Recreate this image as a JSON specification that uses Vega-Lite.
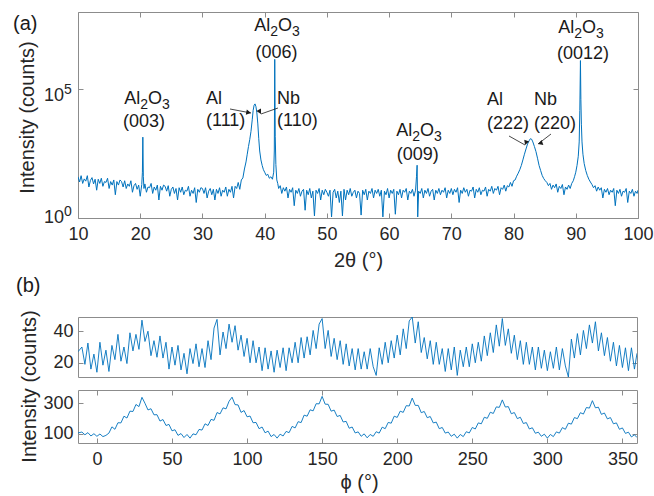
{
"$schema": "https://vega.github.io/schema/vega-lite/v6.json",
"background": "white",
"padding": {"top": 11, "left": 12, "right": 4, "bottom": 5},
"config": {
 "font": "Liberation Sans",
 "view": {"stroke": "#8c8c8c", "strokeWidth": 1},
 "axis": {"domain": false, "grid": false, "ticks": true, "tickSize": -5, "tickColor": "#8c8c8c", "tickWidth": 1, "labelFont": "Liberation Sans", "labelFontSize": 18, "labelColor": "#262626", "labelPadding": 12, "labelFlush": false, "labelOverlap": false, "titleFont": "Liberation Sans", "titleFontSize": 20, "titleFontWeight": "normal", "titleColor": "#262626"},
 "text": {"font": "Liberation Sans", "color": "#1a1a1a"}
},
"datasets": {
 "xrd": [
{"t":10,"c":40},{"t":10.25,"c":25},{"t":10.5,"c":44},{"t":10.75,"c":22},{"t":11,"c":33},{"t":11.25,"c":27},{"t":11.5,"c":44},{"t":11.75,"c":16},{"t":12,"c":29},{"t":12.25,"c":37},{"t":12.5,"c":21},{"t":12.75,"c":32},{"t":13,"c":12},{"t":13.25,"c":32},{"t":13.5,"c":22},{"t":13.75,"c":35},{"t":14,"c":17},{"t":14.25,"c":26},{"t":14.5,"c":24},{"t":14.75,"c":35},{"t":15,"c":14},{"t":15.25,"c":26},{"t":15.5,"c":19},{"t":15.75,"c":30},{"t":16,"c":8},{"t":16.25,"c":26},{"t":16.5,"c":19},{"t":16.75,"c":30},{"t":17,"c":26},{"t":17.25,"c":16},{"t":17.5,"c":28},{"t":17.75,"c":14},{"t":18,"c":21},{"t":18.25,"c":17},{"t":18.5,"c":28},{"t":18.75,"c":10},{"t":19,"c":18},{"t":19.25,"c":22},{"t":19.5,"c":13},{"t":19.75,"c":19},{"t":20,"c":7},{"t":20.25,"c":20},{"t":20.35,"c":60},{"t":20.42,"c":1380},{"t":20.5,"c":40},{"t":20.6,"c":14},{"t":20.75,"c":21},{"t":21,"c":10},{"t":21.25,"c":16},{"t":21.5,"c":15},{"t":21.75,"c":22},{"t":22,"c":9},{"t":22.25,"c":16},{"t":22.5,"c":12},{"t":22.75,"c":19},{"t":23,"c":5},{"t":23.25,"c":17},{"t":23.5,"c":12},{"t":23.75,"c":19},{"t":24,"c":17},{"t":24.25,"c":11},{"t":24.5,"c":18},{"t":24.75,"c":7},{"t":25,"c":13},{"t":25.25,"c":16},{"t":25.5,"c":9},{"t":25.75,"c":14},{"t":26,"c":5},{"t":26.25,"c":15},{"t":26.5,"c":10},{"t":26.75,"c":16},{"t":27,"c":8},{"t":27.25,"c":12},{"t":27.5,"c":11},{"t":27.75,"c":17},{"t":28,"c":7},{"t":28.25,"c":12},{"t":28.5,"c":9},{"t":28.75,"c":15},{"t":29,"c":4},{"t":29.25,"c":13},{"t":29.5,"c":10},{"t":29.75,"c":15},{"t":30,"c":14},{"t":30.25,"c":9},{"t":30.5,"c":15},{"t":30.75,"c":6},{"t":31,"c":11},{"t":31.25,"c":14},{"t":31.5,"c":8},{"t":31.75,"c":13},{"t":32,"c":5},{"t":32.25,"c":13},{"t":32.5,"c":9},{"t":32.75,"c":15},{"t":33,"c":7},{"t":33.25,"c":12},{"t":33.5,"c":10},{"t":33.75,"c":16},{"t":34,"c":7},{"t":34.25,"c":13},{"t":34.5,"c":10},{"t":34.75,"c":17},{"t":35,"c":6},{"t":35.25,"c":17},{"t":35.5,"c":14},{"t":35.75,"c":24},{"t":36,"c":13},{"t":36.25,"c":30},{"t":36.5,"c":36},{"t":36.75,"c":80},{"t":37,"c":150},{"t":37.2,"c":300},{"t":37.4,"c":600},{"t":37.6,"c":1100},{"t":37.8,"c":2300},{"t":38,"c":6500},{"t":38.15,"c":15000},{"t":38.3,"c":24000},{"t":38.45,"c":27000},{"t":38.6,"c":21000},{"t":38.75,"c":12000},{"t":38.9,"c":4500},{"t":39.05,"c":1200},{"t":39.2,"c":400},{"t":39.4,"c":180},{"t":39.6,"c":110},{"t":39.8,"c":75},{"t":40,"c":60},{"t":40.25,"c":45},{"t":40.5,"c":50},{"t":40.75,"c":35},{"t":41,"c":40},{"t":41.25,"c":32},{"t":41.45,"c":60},{"t":41.55,"c":400},{"t":41.62,"c":1450000},{"t":41.7,"c":1500},{"t":41.8,"c":120},{"t":41.95,"c":30},{"t":42.1,"c":22},{"t":42.25,"c":14},{"t":42.5,"c":18},{"t":42.75,"c":9},{"t":43,"c":15},{"t":43.25,"c":11},{"t":43.5,"c":16},{"t":43.75,"c":6},{"t":44,"c":13},{"t":44.25,"c":10},{"t":44.5,"c":15},{"t":44.75,"c":3},{"t":45,"c":12},{"t":45.25,"c":9},{"t":45.5,"c":14},{"t":45.75,"c":7},{"t":46,"c":11},{"t":46.25,"c":13},{"t":46.5,"c":2},{"t":46.75,"c":12},{"t":47,"c":8},{"t":47.25,"c":14},{"t":47.5,"c":6},{"t":47.75,"c":11},{"t":48,"c":1.2},{"t":48.25,"c":12},{"t":48.5,"c":9},{"t":48.75,"c":14},{"t":49,"c":5},{"t":49.25,"c":12},{"t":49.5,"c":8},{"t":49.75,"c":13},{"t":50,"c":10},{"t":50.25,"c":7},{"t":50.5,"c":12},{"t":50.75,"c":1.1},{"t":51,"c":10},{"t":51.25,"c":13},{"t":51.5,"c":6},{"t":51.75,"c":11},{"t":52,"c":4},{"t":52.25,"c":11},{"t":52.5,"c":1.2},{"t":52.75,"c":13},{"t":53,"c":5},{"t":53.25,"c":12},{"t":53.5,"c":8},{"t":53.75,"c":14},{"t":54,"c":7},{"t":54.25,"c":10},{"t":54.5,"c":12},{"t":54.75,"c":6},{"t":55,"c":11},{"t":55.25,"c":9},{"t":55.5,"c":1.3},{"t":55.75,"c":12},{"t":56,"c":8},{"t":56.25,"c":13},{"t":56.5,"c":5},{"t":56.75,"c":11},{"t":57,"c":9},{"t":57.25,"c":14},{"t":57.5,"c":6},{"t":57.75,"c":12},{"t":58,"c":9},{"t":58.25,"c":13},{"t":58.5,"c":7},{"t":58.75,"c":12},{"t":59,"c":1.1},{"t":59.25,"c":11},{"t":59.5,"c":8},{"t":59.75,"c":14},{"t":60,"c":6},{"t":60.25,"c":12},{"t":60.5,"c":9},{"t":60.75,"c":13},{"t":61,"c":1.4},{"t":61.25,"c":11},{"t":61.5,"c":8},{"t":61.75,"c":13},{"t":62,"c":6},{"t":62.25,"c":12},{"t":62.5,"c":10},{"t":62.75,"c":14},{"t":63,"c":5},{"t":63.25,"c":11},{"t":63.5,"c":9},{"t":63.75,"c":13},{"t":64,"c":7},{"t":64.25,"c":12},{"t":64.4,"c":40},{"t":64.5,"c":112},{"t":64.6,"c":1.1},{"t":64.75,"c":11},{"t":65,"c":9},{"t":65.25,"c":14},{"t":65.5,"c":6},{"t":65.75,"c":12},{"t":66,"c":9},{"t":66.25,"c":14},{"t":66.5,"c":7},{"t":66.75,"c":11},{"t":67,"c":13},{"t":67.25,"c":5},{"t":67.5,"c":12},{"t":67.75,"c":9},{"t":68,"c":14},{"t":68.25,"c":8},{"t":68.5,"c":12},{"t":68.75,"c":10},{"t":69,"c":15},{"t":69.25,"c":6},{"t":69.5,"c":12},{"t":69.75,"c":9},{"t":70,"c":14},{"t":70.25,"c":8},{"t":70.5,"c":13},{"t":70.75,"c":10},{"t":71,"c":15},{"t":71.25,"c":4},{"t":71.5,"c":12},{"t":71.75,"c":9},{"t":72,"c":15},{"t":72.25,"c":10},{"t":72.5,"c":13},{"t":72.75,"c":7},{"t":73,"c":12},{"t":73.25,"c":11},{"t":73.5,"c":16},{"t":73.75,"c":6},{"t":74,"c":13},{"t":74.25,"c":10},{"t":74.5,"c":15},{"t":74.75,"c":8},{"t":75,"c":12},{"t":75.25,"c":11},{"t":75.5,"c":16},{"t":75.75,"c":7},{"t":76,"c":13},{"t":76.25,"c":11},{"t":76.5,"c":17},{"t":76.75,"c":9},{"t":77,"c":14},{"t":77.25,"c":12},{"t":77.5,"c":17},{"t":77.75,"c":8},{"t":78,"c":15},{"t":78.25,"c":13},{"t":78.5,"c":19},{"t":78.75,"c":11},{"t":79,"c":18},{"t":79.25,"c":16},{"t":79.5,"c":24},{"t":79.75,"c":17},{"t":80,"c":28},{"t":80.25,"c":30},{"t":80.5,"c":42},{"t":80.75,"c":55},{"t":81,"c":75},{"t":81.25,"c":110},{"t":81.5,"c":180},{"t":81.75,"c":300},{"t":82,"c":480},{"t":82.25,"c":750},{"t":82.5,"c":1000},{"t":82.7,"c":1200},{"t":82.9,"c":1150},{"t":83.1,"c":900},{"t":83.35,"c":600},{"t":83.6,"c":380},{"t":83.85,"c":210},{"t":84.1,"c":110},{"t":84.35,"c":70},{"t":84.6,"c":45},{"t":84.85,"c":34},{"t":85.1,"c":28},{"t":85.35,"c":24},{"t":85.6,"c":18},{"t":85.85,"c":22},{"t":86.1,"c":13},{"t":86.35,"c":19},{"t":86.6,"c":15},{"t":86.85,"c":21},{"t":87.1,"c":10},{"t":87.35,"c":17},{"t":87.6,"c":14},{"t":87.85,"c":20},{"t":88.1,"c":8},{"t":88.35,"c":16},{"t":88.6,"c":13},{"t":88.85,"c":19},{"t":89.1,"c":14},{"t":89.35,"c":22},{"t":89.6,"c":28},{"t":89.8,"c":40},{"t":90,"c":60},{"t":90.2,"c":110},{"t":90.4,"c":250},{"t":90.55,"c":900},{"t":90.65,"c":15000},{"t":90.75,"c":1300000},{"t":90.82,"c":40000},{"t":90.9,"c":4400},{"t":91,"c":900},{"t":91.15,"c":300},{"t":91.35,"c":130},{"t":91.6,"c":70},{"t":91.85,"c":45},{"t":92.1,"c":32},{"t":92.35,"c":25},{"t":92.6,"c":20},{"t":92.85,"c":15},{"t":93.1,"c":18},{"t":93.35,"c":11},{"t":93.6,"c":16},{"t":93.85,"c":12},{"t":94.1,"c":15},{"t":94.35,"c":6},{"t":94.6,"c":13},{"t":94.85,"c":10},{"t":95.1,"c":14},{"t":95.35,"c":8},{"t":95.6,"c":12},{"t":95.85,"c":10},{"t":96.1,"c":14},{"t":96.35,"c":3},{"t":96.6,"c":12},{"t":96.85,"c":9},{"t":97.1,"c":13},{"t":97.35,"c":7},{"t":97.6,"c":11},{"t":97.85,"c":10},{"t":98.1,"c":14},{"t":98.35,"c":4},{"t":98.6,"c":11},{"t":98.85,"c":9},{"t":99.1,"c":13},{"t":99.35,"c":7},{"t":99.6,"c":11},{"t":99.85,"c":9},{"t":100,"c":12}
 ],
 "labelsC": [
  {"t":20.6,"i":3420,"s":"(003)"},
  {"t":41.9,"i":1640000,"s":"(006)"},
  {"t":64.6,"i":179,"s":"(009)"},
  {"t":91.16,"i":1500000,"s":"(0012)"}
 ],
 "labelsL": [
  {"t":17.44,"i":26700,"s":"Al"},{"t":21.26,"i":26700,"s":"O"},
  {"t":38.34,"i":18300000,"s":"Al"},{"t":42.16,"i":18300000,"s":"O"},
  {"t":61.14,"i":1530,"s":"Al"},{"t":64.96,"i":1530,"s":"O"},
  {"t":87.18,"i":15300000,"s":"Al"},{"t":91.0,"i":15300000,"s":"O"},
  {"t":30.57,"i":26700,"s":"Al"},{"t":30.57,"i":3740,"s":"(111)"},
  {"t":41.98,"i":26700,"s":"Nb"},{"t":41.98,"i":3740,"s":"(110)"},
  {"t":75.73,"i":24400,"s":"Al"},{"t":75.73,"i":2860,"s":"(222)"},
  {"t":83.29,"i":24400,"s":"Nb"},{"t":83.29,"i":2860,"s":"(220)"}
 ],
 "labelsSub": [
  {"t":20.01,"i":26700,"s":"2"},{"t":23.51,"i":26700,"s":"3"},
  {"t":40.91,"i":18300000,"s":"2"},{"t":44.41,"i":18300000,"s":"3"},
  {"t":63.71,"i":1530,"s":"2"},{"t":67.21,"i":1530,"s":"3"},
  {"t":89.75,"i":15300000,"s":"2"},{"t":93.25,"i":15300000,"s":"3"}
 ],
 "ybase": [
  {"t":7.75,"i":35000,"s":"10"},{"t":7.75,"i":0.64,"s":"10"}
 ],
 "yexp": [
  {"t":7.75,"i":35000,"s":"5"},{"t":7.75,"i":0.64,"s":"0"}
 ],
 "arrows": [
  {"id":"a","t1":34.43,"i1":17100,"t2":37.8,"i2":11970},
  {"id":"b","t1":42.14,"i1":18700,"t2":39.41,"i2":10940},
  {"id":"c","t1":79.27,"i1":1528,"t2":81.84,"i2":684},
  {"id":"d","t1":86.02,"i1":1828,"t2":83.93,"i2":748}
 ],
 "phi1": [
{"p":-12.6,"v":27},{"p":-10,"v":30},{"p":-8,"v":19},{"p":-6,"v":32.5},{"p":-4,"v":16},{"p":-2,"v":25.5},{"p":0,"v":14},{"p":2,"v":33},{"p":4,"v":18.5},{"p":6,"v":28},{"p":8,"v":14.5},{"p":10,"v":31},{"p":12,"v":22},{"p":14,"v":38},{"p":16,"v":21},{"p":18,"v":30},{"p":20,"v":19.5},{"p":22,"v":39},{"p":24,"v":27.5},{"p":26,"v":38},{"p":28,"v":28.5},{"p":30,"v":47},{"p":32,"v":33.5},{"p":34,"v":40},{"p":36,"v":24.5},{"p":38,"v":34},{"p":40,"v":23.5},{"p":42,"v":37},{"p":44,"v":23},{"p":46,"v":33},{"p":48,"v":16},{"p":50,"v":30},{"p":52,"v":18.5},{"p":54,"v":31},{"p":56,"v":15.5},{"p":58,"v":26},{"p":60,"v":13},{"p":62,"v":29},{"p":64,"v":19.5},{"p":66,"v":32},{"p":68,"v":17.5},{"p":70,"v":29},{"p":72,"v":17},{"p":74,"v":34},{"p":76,"v":22},{"p":78,"v":42},{"p":80,"v":47.5},{"p":82,"v":25},{"p":84,"v":39.5},{"p":86,"v":29},{"p":88,"v":44.5},{"p":90,"v":33},{"p":92,"v":43.5},{"p":94,"v":28},{"p":96,"v":37.5},{"p":98,"v":24},{"p":100,"v":35.5},{"p":102,"v":20},{"p":104,"v":34},{"p":106,"v":20},{"p":108,"v":30},{"p":110,"v":15},{"p":112,"v":29.5},{"p":114,"v":16},{"p":116,"v":27.5},{"p":118,"v":14},{"p":120,"v":28},{"p":122,"v":17},{"p":124,"v":29.5},{"p":126,"v":15},{"p":128,"v":29.5},{"p":130,"v":20},{"p":132,"v":33},{"p":134,"v":20},{"p":136,"v":36},{"p":138,"v":23},{"p":140,"v":36.5},{"p":142,"v":25},{"p":144,"v":40.5},{"p":146,"v":29},{"p":148,"v":44.5},{"p":150,"v":48},{"p":152,"v":29},{"p":154,"v":40.5},{"p":156,"v":24},{"p":158,"v":35.5},{"p":160,"v":22},{"p":162,"v":34},{"p":164,"v":19},{"p":166,"v":32},{"p":168,"v":18},{"p":170,"v":29},{"p":172,"v":15.5},{"p":174,"v":29},{"p":176,"v":16},{"p":178,"v":27},{"p":180,"v":16},{"p":182,"v":29},{"p":184,"v":17.5},{"p":186,"v":12},{"p":188,"v":29.5},{"p":190,"v":19},{"p":192,"v":33},{"p":194,"v":20},{"p":196,"v":34},{"p":198,"v":23},{"p":200,"v":37.5},{"p":202,"v":25},{"p":204,"v":41.5},{"p":206,"v":29},{"p":208,"v":46.5},{"p":210,"v":49},{"p":212,"v":32.5},{"p":214,"v":46},{"p":216,"v":26.5},{"p":218,"v":36},{"p":220,"v":22.5},{"p":222,"v":34},{"p":224,"v":19},{"p":226,"v":33},{"p":228,"v":19},{"p":230,"v":29},{"p":232,"v":14.5},{"p":234,"v":29},{"p":236,"v":15.5},{"p":238,"v":30},{"p":240,"v":12},{"p":242,"v":28},{"p":244,"v":17.5},{"p":246,"v":30},{"p":248,"v":17.5},{"p":250,"v":32},{"p":252,"v":20},{"p":254,"v":33},{"p":256,"v":21},{"p":258,"v":37},{"p":260,"v":24.5},{"p":262,"v":39},{"p":264,"v":26.5},{"p":266,"v":44},{"p":268,"v":30.5},{"p":270,"v":48},{"p":272,"v":31},{"p":274,"v":41.5},{"p":276,"v":26},{"p":278,"v":37.5},{"p":280,"v":22},{"p":282,"v":34},{"p":284,"v":19},{"p":286,"v":33},{"p":288,"v":19},{"p":290,"v":30},{"p":292,"v":15.5},{"p":294,"v":30},{"p":296,"v":16.5},{"p":298,"v":28},{"p":300,"v":15},{"p":302,"v":27},{"p":304,"v":16.5},{"p":306,"v":30},{"p":308,"v":15.5},{"p":310,"v":29},{"p":312,"v":18},{"p":314,"v":11},{"p":316,"v":35},{"p":318,"v":23},{"p":320,"v":38.5},{"p":322,"v":25},{"p":324,"v":40.5},{"p":326,"v":29},{"p":328,"v":44},{"p":330,"v":32.5},{"p":332,"v":46},{"p":334,"v":27.5},{"p":336,"v":39},{"p":338,"v":24.5},{"p":340,"v":36},{"p":342,"v":21},{"p":344,"v":33},{"p":346,"v":18},{"p":348,"v":31},{"p":350,"v":17},{"p":352,"v":29.5},{"p":354,"v":15},{"p":356,"v":29.5},{"p":358,"v":16},{"p":359.7,"v":26}
 ],
 "phi2": [
{"p":-12.6,"v":106},{"p":-10,"v":112},{"p":-8,"v":94},{"p":-6,"v":108},{"p":-4,"v":86},{"p":-2,"v":101},{"p":0,"v":84},{"p":2,"v":99},{"p":4,"v":82},{"p":6,"v":90},{"p":8,"v":105},{"p":10,"v":146},{"p":12,"v":130},{"p":14,"v":173},{"p":16,"v":172},{"p":18,"v":216},{"p":20,"v":204},{"p":22,"v":249},{"p":24,"v":247},{"p":26,"v":293},{"p":28,"v":279},{"p":30,"v":340},{"p":32,"v":301},{"p":34,"v":257},{"p":36,"v":265},{"p":38,"v":225},{"p":40,"v":226},{"p":42,"v":184},{"p":44,"v":194},{"p":46,"v":155},{"p":48,"v":162},{"p":50,"v":120},{"p":52,"v":127},{"p":54,"v":90},{"p":56,"v":102},{"p":58,"v":76},{"p":60,"v":96},{"p":62,"v":72},{"p":64,"v":100},{"p":66,"v":94},{"p":68,"v":129},{"p":70,"v":125},{"p":72,"v":166},{"p":74,"v":155},{"p":76,"v":195},{"p":78,"v":189},{"p":80,"v":240},{"p":82,"v":231},{"p":84,"v":271},{"p":86,"v":264},{"p":88,"v":314},{"p":90,"v":341},{"p":92,"v":292},{"p":94,"v":290},{"p":96,"v":241},{"p":98,"v":253},{"p":100,"v":212},{"p":102,"v":217},{"p":104,"v":173},{"p":106,"v":175},{"p":108,"v":134},{"p":110,"v":145},{"p":112,"v":107},{"p":114,"v":118},{"p":116,"v":82},{"p":118,"v":96},{"p":120,"v":72},{"p":122,"v":98},{"p":124,"v":86},{"p":126,"v":116},{"p":128,"v":108},{"p":130,"v":149},{"p":132,"v":139},{"p":134,"v":180},{"p":136,"v":174},{"p":138,"v":223},{"p":140,"v":216},{"p":142,"v":258},{"p":144,"v":251},{"p":146,"v":298},{"p":148,"v":297},{"p":150,"v":346},{"p":152,"v":295},{"p":154,"v":294},{"p":156,"v":249},{"p":158,"v":256},{"p":160,"v":214},{"p":162,"v":221},{"p":164,"v":178},{"p":166,"v":182},{"p":168,"v":137},{"p":170,"v":145},{"p":172,"v":106},{"p":174,"v":113},{"p":176,"v":84},{"p":178,"v":100},{"p":180,"v":74},{"p":182,"v":96},{"p":184,"v":84},{"p":186,"v":114},{"p":188,"v":105},{"p":190,"v":144},{"p":192,"v":134},{"p":194,"v":175},{"p":196,"v":170},{"p":198,"v":216},{"p":200,"v":208},{"p":202,"v":249},{"p":204,"v":241},{"p":206,"v":285},{"p":208,"v":283},{"p":210,"v":335},{"p":212,"v":287},{"p":214,"v":287},{"p":216,"v":239},{"p":218,"v":247},{"p":220,"v":206},{"p":222,"v":214},{"p":224,"v":172},{"p":226,"v":177},{"p":228,"v":134},{"p":230,"v":142},{"p":232,"v":105},{"p":234,"v":112},{"p":236,"v":84},{"p":238,"v":98},{"p":240,"v":72},{"p":242,"v":96},{"p":244,"v":82},{"p":246,"v":114},{"p":248,"v":106},{"p":250,"v":142},{"p":252,"v":132},{"p":254,"v":172},{"p":256,"v":166},{"p":258,"v":209},{"p":260,"v":202},{"p":262,"v":242},{"p":264,"v":234},{"p":266,"v":277},{"p":268,"v":274},{"p":270,"v":323},{"p":272,"v":276},{"p":274,"v":279},{"p":276,"v":232},{"p":278,"v":240},{"p":280,"v":200},{"p":282,"v":209},{"p":284,"v":168},{"p":286,"v":174},{"p":288,"v":132},{"p":290,"v":140},{"p":292,"v":104},{"p":294,"v":111},{"p":296,"v":84},{"p":298,"v":98},{"p":300,"v":72},{"p":302,"v":96},{"p":304,"v":82},{"p":306,"v":113},{"p":308,"v":105},{"p":310,"v":141},{"p":312,"v":130},{"p":314,"v":170},{"p":316,"v":164},{"p":318,"v":207},{"p":320,"v":200},{"p":322,"v":239},{"p":324,"v":230},{"p":326,"v":273},{"p":328,"v":269},{"p":330,"v":318},{"p":332,"v":271},{"p":334,"v":275},{"p":336,"v":228},{"p":338,"v":237},{"p":340,"v":198},{"p":342,"v":207},{"p":344,"v":166},{"p":346,"v":172},{"p":348,"v":130},{"p":350,"v":139},{"p":352,"v":103},{"p":354,"v":111},{"p":356,"v":80},{"p":358,"v":94},{"p":359.7,"v":76}
 ]
},
"bounds": "flush",
"spacing": 99,
"vconcat": [
 {
  "width": 560, "height": 206,
  "resolve": {"axis": {"x": "independent", "y": "independent"}},
  "layer": [
   {"data": {"name": "xrd"},
    "mark": {"type": "line", "color": "#0072BD", "strokeWidth": 1, "clip": true},
    "encoding": {
     "x": {"field": "t", "type": "quantitative", "scale": {"domain": [10, 100], "nice": false, "zero": false},
           "axis": {"orient": "bottom", "values": [10,20,30,40,50,60,70,80,90,100], "title": "2θ (°)", "titleX": 280, "titleY": 42, "titleBaseline": "middle", "titleAlign": "center"}},
     "y": {"field": "c", "type": "quantitative", "scale": {"type": "log", "domain": [1, 100000000], "nice": false},
           "axis": {"orient": "left", "values": [1, 100000], "labels": false, "title": "Intensity (counts)", "titleX": -51, "titleY": 105, "titleAngle": -90, "titleBaseline": "middle", "titleAlign": "center"}}
    }},
   {"data": {"name": "arrows"},
    "mark": {"type": "rule", "color": "#1a1a1a", "strokeWidth": 0.8},
    "encoding": {
     "x": {"field": "t1", "type": "quantitative", "scale": {"domain": [10, 100], "nice": false, "zero": false},
           "axis": {"orient": "top", "values": [10,20,30,40,50,60,70,80,90,100], "labels": false, "title": null}},
     "y": {"field": "i1", "type": "quantitative", "scale": {"type": "log", "domain": [1, 100000000], "nice": false},
           "axis": {"orient": "right", "values": [1, 100000], "labels": false, "title": null}},
     "x2": {"field": "t2"},
     "y2": {"field": "i2"}
    }},
   {"data": {"name": "arrows"},
    "mark": {"type": "point", "shape": "M0,0L-1,-0.55L-1,0.55Z", "filled": true, "color": "#1a1a1a", "size": 90, "opacity": 1},
    "encoding": {
     "x": {"field": "t2", "type": "quantitative", "scale": {"domain": [10, 100], "nice": false, "zero": false}, "axis": null},
     "y": {"field": "i2", "type": "quantitative", "scale": {"type": "log", "domain": [1, 100000000], "nice": false}, "axis": null},
     "angle": {"field": "id", "type": "nominal", "scale": {"domain": ["a","b","c","d"], "range": [11, 161, 29, 142]}, "legend": null}
    }},
   {"data": {"name": "labelsC"},
    "mark": {"type": "text", "align": "center", "baseline": "alphabetic", "fontSize": 18, "font": "Liberation Sans", "color": "#1a1a1a"},
    "encoding": {
     "x": {"field": "t", "type": "quantitative", "scale": {"domain": [10, 100], "nice": false, "zero": false}, "axis": null},
     "y": {"field": "i", "type": "quantitative", "scale": {"type": "log", "domain": [1, 100000000], "nice": false}, "axis": null},
     "text": {"field": "s"}
    }},
   {"data": {"name": "labelsL"},
    "mark": {"type": "text", "align": "left", "baseline": "alphabetic", "fontSize": 18, "font": "Liberation Sans", "color": "#1a1a1a"},
    "encoding": {
     "x": {"field": "t", "type": "quantitative", "scale": {"domain": [10, 100], "nice": false, "zero": false}, "axis": null},
     "y": {"field": "i", "type": "quantitative", "scale": {"type": "log", "domain": [1, 100000000], "nice": false}, "axis": null},
     "text": {"field": "s"}
    }},
   {"data": {"name": "labelsSub"},
    "mark": {"type": "text", "align": "left", "baseline": "alphabetic", "fontSize": 14, "dy": 5, "font": "Liberation Sans", "color": "#1a1a1a"},
    "encoding": {
     "x": {"field": "t", "type": "quantitative", "scale": {"domain": [10, 100], "nice": false, "zero": false}, "axis": null},
     "y": {"field": "i", "type": "quantitative", "scale": {"type": "log", "domain": [1, 100000000], "nice": false}, "axis": null},
     "text": {"field": "s"}
    }},
   {"data": {"name": "ybase"},
    "mark": {"type": "text", "align": "right", "baseline": "alphabetic", "fontSize": 18, "font": "Liberation Sans", "color": "#262626"},
    "encoding": {
     "x": {"field": "t", "type": "quantitative", "scale": {"domain": [10, 100], "nice": false, "zero": false}, "axis": null},
     "y": {"field": "i", "type": "quantitative", "scale": {"type": "log", "domain": [1, 100000000], "nice": false}, "axis": null},
     "text": {"field": "s"}
    }},
   {"data": {"name": "yexp"},
    "mark": {"type": "text", "align": "left", "baseline": "alphabetic", "fontSize": 14, "dy": -7, "font": "Liberation Sans", "color": "#262626"},
    "encoding": {
     "x": {"field": "t", "type": "quantitative", "scale": {"domain": [10, 100], "nice": false, "zero": false}, "axis": null},
     "y": {"field": "i", "type": "quantitative", "scale": {"type": "log", "domain": [1, 100000000], "nice": false}, "axis": null},
     "text": {"field": "s"}
    }},
   {"data": {"values": [{"t": -0.45, "i": 20000000, "s": "(a)"}]},
    "mark": {"type": "text", "align": "left", "baseline": "alphabetic", "fontSize": 20, "font": "Liberation Sans", "color": "#1a1a1a"},
    "encoding": {
     "x": {"field": "t", "type": "quantitative", "scale": {"domain": [10, 100], "nice": false, "zero": false}, "axis": null},
     "y": {"field": "i", "type": "quantitative", "scale": {"type": "log", "domain": [1, 100000000], "nice": false}, "axis": null},
     "text": {"field": "s"}
    }}
  ]
 },
 {
  "bounds": "flush",
  "spacing": 13,
  "vconcat": [
   {
    "width": 559, "height": 60,
    "resolve": {"axis": {"x": "independent", "y": "independent"}},
    "layer": [
     {"data": {"name": "phi1"},
      "mark": {"type": "line", "color": "#0072BD", "strokeWidth": 0.9, "clip": true},
      "encoding": {
       "x": {"field": "p", "type": "quantitative", "scale": {"domain": [-12.6, 359.7], "nice": false, "zero": false}, "axis": null},
       "y": {"field": "v", "type": "quantitative", "scale": {"domain": [11, 49], "nice": false, "zero": false},
             "axis": {"orient": "left", "values": [20, 40], "labelPadding": 10, "title": null}}
      }},
     {"data": {"values": [{"p": -53.9, "v": 64.8, "s": "(b)"}]},
      "mark": {"type": "text", "align": "left", "baseline": "alphabetic", "fontSize": 20, "font": "Liberation Sans", "color": "#1a1a1a"},
      "encoding": {
       "x": {"field": "p", "type": "quantitative", "scale": {"domain": [-12.6, 359.7], "nice": false, "zero": false}, "axis": null},
       "y": {"field": "v", "type": "quantitative", "scale": {"domain": [11, 49], "nice": false, "zero": false},
             "axis": {"orient": "right", "values": [20, 40], "labels": false, "title": null}},
       "text": {"field": "s"}
      }}
    ]
   },
   {
    "width": 559, "height": 53,
    "resolve": {"axis": {"x": "independent", "y": "independent"}},
    "layer": [
     {"data": {"name": "phi2"},
      "mark": {"type": "line", "color": "#0072BD", "strokeWidth": 0.9, "clip": true},
      "encoding": {
       "x": {"field": "p", "type": "quantitative", "scale": {"domain": [-12.6, 359.7], "nice": false, "zero": false},
             "axis": {"orient": "bottom", "values": [0,50,100,150,200,250,300,350], "title": "ϕ (°)", "titleX": 281, "titleY": 39, "titleBaseline": "middle", "titleAlign": "center"}},
       "y": {"field": "v", "type": "quantitative", "scale": {"domain": [40, 388], "nice": false, "zero": false},
             "axis": {"orient": "left", "values": [100, 300], "labelPadding": 10, "title": "Intensity (counts)", "titleX": -48.5, "titleY": -4, "titleAngle": -90, "titleBaseline": "middle", "titleAlign": "center"}}
      }},
     {"data": {"name": "phi2"},
      "mark": {"type": "line", "opacity": 0, "strokeOpacity": 0},
      "encoding": {
       "x": {"field": "p", "type": "quantitative", "scale": {"domain": [-12.6, 359.7], "nice": false, "zero": false},
             "axis": {"orient": "top", "values": [0,50,100,150,200,250,300,350], "labels": false, "title": null}},
       "y": {"field": "v", "type": "quantitative", "scale": {"domain": [40, 388], "nice": false, "zero": false},
             "axis": {"orient": "right", "values": [100, 300], "labels": false, "title": null}}
      }}
    ]
   }
  ]
 }
]
}
